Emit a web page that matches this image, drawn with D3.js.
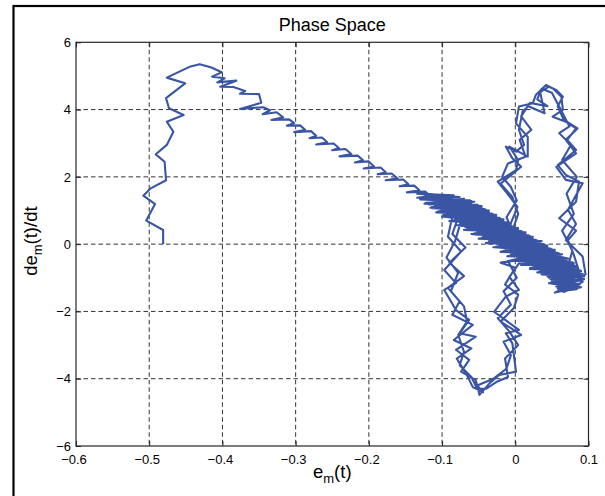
<!DOCTYPE html>
<html><head><meta charset="utf-8">
<script src="https://cdn.jsdelivr.net/npm/d3@7"></script>
<style>
body{margin:0;background:#fff}
svg{display:block}
text{font-family:"Liberation Sans",Arial,Helvetica,sans-serif;fill:#000}
</style>
</head><body>
<svg id="chart" width="605" height="496"></svg>
<script>
// ---------- data ----------
const titleText = "Phase Space";
const xTicks = [-0.6, -0.5, -0.4, -0.3, -0.2, -0.1, 0, 0.1];
const yTicks = [-6, -4, -2, 0, 2, 4, 6];

const climb = [[-0.481,0.00],[-0.481,0.42],[-0.504,0.70],[-0.492,1.19],[-0.508,1.44],[-0.498,1.66],[-0.477,1.90],[-0.479,2.45],[-0.491,2.67],[-0.476,2.95],[-0.467,3.34],[-0.476,3.64],[-0.453,3.84],[-0.473,4.04],[-0.477,4.34],[-0.451,4.78],[-0.476,4.95],[-0.445,5.27],[-0.431,5.35],[-0.415,5.25],[-0.401,5.11]];

const diagonal = [[-0.414,4.98],[-0.397,4.93],[-0.407,4.81],[-0.381,4.86],[-0.403,4.68],[-0.385,4.67],[-0.369,4.55],[-0.376,4.47],[-0.350,4.46],[-0.347,4.20],[-0.376,4.02],[-0.344,4.07],[-0.335,3.98],[-0.345,3.86],[-0.326,3.92],[-0.317,3.77],[-0.333,3.69],[-0.309,3.71],[-0.302,3.60],[-0.312,3.52],[-0.294,3.53],[-0.287,3.40],[-0.302,3.33],[-0.279,3.36],[-0.272,3.22],[-0.281,3.15],[-0.264,3.17],[-0.257,3.03],[-0.272,2.96],[-0.248,2.99],[-0.241,2.86],[-0.250,2.79],[-0.232,2.83],[-0.224,2.68],[-0.240,2.61],[-0.215,2.63],[-0.208,2.49],[-0.219,2.43],[-0.200,2.46],[-0.193,2.31],[-0.207,2.25],[-0.184,2.28],[-0.177,2.14],[-0.188,2.08],[-0.169,2.10],[-0.161,1.96],[-0.177,1.90],[-0.153,1.92],[-0.146,1.78],[-0.158,1.72],[-0.138,1.74],[-0.131,1.60],[-0.148,1.54],[-0.123,1.56],[-0.116,1.43],[-0.134,1.38],[-0.108,1.40],[-0.100,1.28]];

const bandPass1 = [[-0.070,1.35],[-0.118,1.18],[-0.066,1.24],[-0.110,1.08],[-0.058,1.16],[-0.104,0.98],[-0.050,1.06],[-0.098,0.88],[-0.042,0.96],[-0.090,0.79],[-0.036,0.86],[-0.082,0.70],[-0.030,0.76],[-0.075,0.60],[-0.022,0.66],[-0.068,0.51],[-0.016,0.56],[-0.060,0.42],[-0.008,0.46],[-0.052,0.32],[-0.002,0.36],[-0.044,0.22],[0.006,0.26],[-0.036,0.12],[0.014,0.15],[-0.030,0.02],[0.020,0.05],[-0.022,-0.08],[0.026,-0.06],[-0.014,-0.18],[0.034,-0.16],[-0.006,-0.28],[0.040,-0.27],[0.002,-0.38],[0.048,-0.37],[0.010,-0.48],[0.056,-0.47],[0.018,-0.58],[0.064,-0.58],[0.026,-0.68],[0.070,-0.70],[0.034,-0.78]];

const cornerA = [[0.088,-0.82],[0.042,-0.90],[0.094,-0.96],[0.048,-1.04],[0.090,-1.08],[0.052,-1.18],[0.086,-1.22],[0.058,-1.32],[0.080,-1.30],[0.066,-1.42],[0.092,-1.12],[0.084,-0.60]];

const upperLoop1 = [[0.080,-0.32],[0.072,0.12],[0.083,0.40],[0.060,0.77],[0.083,1.26],[0.087,1.86],[0.069,2.06],[0.058,2.35],[0.083,2.80],[0.071,3.10],[0.083,3.44],[0.069,3.64],[0.051,3.79],[0.065,3.99],[0.063,4.38],[0.052,4.62],[0.042,4.73],[0.028,4.43],[0.024,4.19],[0.005,4.09],[0.001,3.59],[0.017,3.19],[0.017,2.60],[-0.008,2.90],[0.004,2.50],[0.001,2.20],[-0.024,1.86],[-0.013,1.56],[0.003,1.11],[-0.008,0.52],[-0.010,0.30]];

const bandPass2 = [[0.012,0.22],[-0.040,0.40],[0.002,0.38],[-0.050,0.55],[-0.010,0.53],[-0.060,0.68],[-0.020,0.70],[-0.072,0.82],[-0.032,0.86],[-0.082,0.96],[-0.046,1.02],[-0.094,1.12],[-0.060,1.20],[-0.088,1.00]];

const lowerLoop1 = [[-0.085,0.92],[-0.092,0.22],[-0.074,-0.22],[-0.097,-0.77],[-0.081,-1.16],[-0.097,-1.36],[-0.081,-1.96],[-0.063,-2.25],[-0.076,-2.65],[-0.054,-2.75],[-0.081,-3.14],[-0.063,-3.44],[-0.074,-3.79],[-0.054,-4.04],[-0.049,-4.48],[-0.035,-4.13],[-0.022,-3.89],[0.001,-3.79],[-0.004,-2.95],[-0.013,-2.65],[0.005,-2.55],[-0.029,-2.01],[-0.013,-1.56],[0.005,-1.36],[-0.008,-0.97],[0.005,-0.57]];

const bandPass3 = [[0.050,-0.62],[0.010,-0.44],[0.044,-0.50],[0.000,-0.30],[0.036,-0.38],[-0.010,-0.18],[0.028,-0.24],[-0.018,-0.04],[0.020,-0.12],[-0.026,0.08],[0.012,0.02],[-0.034,0.20],[0.004,0.14],[-0.044,0.34],[-0.006,0.28],[-0.052,0.46],[-0.014,0.42],[-0.062,0.60],[-0.024,0.56],[-0.070,0.72],[-0.034,0.70],[-0.080,0.86],[-0.042,0.84],[-0.090,1.00],[-0.052,0.98],[-0.098,1.12],[-0.062,1.14],[-0.112,1.28],[-0.074,1.30],[-0.122,1.44],[-0.086,1.42],[-0.130,1.52],[-0.094,1.26]];

const lowerLoop2 = [[-0.078,0.80],[-0.086,0.30],[-0.068,-0.10],[-0.090,-0.55],[-0.070,-0.95],[-0.092,-1.30],[-0.076,-1.70],[-0.086,-2.10],[-0.058,-2.40],[-0.084,-2.85],[-0.060,-3.10],[-0.080,-3.40],[-0.066,-3.90],[-0.058,-4.25],[-0.044,-4.40],[-0.052,-4.20],[-0.030,-4.00],[-0.012,-3.70],[-0.006,-3.30],[-0.016,-2.90],[0.008,-2.70],[-0.020,-2.30],[-0.002,-1.90],[0.004,-1.50],[-0.014,-1.20],[0.000,-0.70]];

const bandPass4 = [[-0.020,-0.55],[0.030,-0.40],[0.008,-0.62],[0.058,-0.50],[0.020,-0.72],[0.066,-0.64],[0.030,-0.84],[0.074,-0.76]];

const cornerB = [[0.044,-0.96],[0.090,-0.90],[0.050,-1.10],[0.094,-1.04],[0.056,-1.26],[0.088,-1.20],[0.062,-1.36],[0.096,-0.90]];

const upperLoop2 = [[0.092,-0.37],[0.069,0.12],[0.083,0.60],[0.072,1.02],[0.092,1.81],[0.069,1.91],[0.056,2.30],[0.083,2.70],[0.069,3.10],[0.085,3.44],[0.066,3.70],[0.058,4.10],[0.065,4.38],[0.056,4.58],[0.046,4.68],[0.034,4.52],[0.040,3.89],[0.018,4.10],[0.010,3.95],[0.005,3.40],[0.012,2.95],[0.001,2.75],[-0.013,2.90],[-0.004,2.55],[0.008,2.30],[-0.020,1.80],[-0.004,1.40],[0.004,0.90],[-0.004,0.40]];

const bandPass5 = [[-0.040,0.46],[0.006,0.30],[-0.030,0.24],[0.016,0.10],[-0.020,0.04],[0.026,-0.10],[-0.010,-0.16],[0.036,-0.30],[0.000,-0.34],[0.046,-0.46],[0.012,-0.52],[0.056,-0.62],[0.024,-0.72],[0.066,-0.76],[0.036,-0.90]];

const cornerC = [[0.086,-0.96],[0.046,-1.16],[0.090,-1.28],[0.054,-1.44],[0.080,-1.14],[0.070,-0.80]];

const upperLoop3 = [[0.078,-0.20],[0.064,0.40],[0.080,0.90],[0.070,1.50],[0.084,2.00],[0.064,2.50],[0.076,2.95],[0.060,3.30],[0.074,3.50],[0.062,4.00],[0.050,4.50],[0.036,4.62],[0.030,4.30],[0.044,4.10],[0.020,4.20],[0.008,3.80],[0.022,3.40],[0.006,3.10],[0.014,2.60],[-0.010,2.40],[-0.018,2.00],[-0.006,1.70],[0.002,1.30],[-0.012,0.80],[0.000,0.20]];

const bandPass6 = [[-0.044,0.56],[-0.006,0.50],[-0.054,0.70],[-0.016,0.66],[-0.066,0.84],[-0.028,0.80],[-0.076,0.98],[-0.040,0.98],[-0.084,1.10]];

const lowerLoop3 = [[-0.074,0.70],[-0.082,0.10],[-0.094,-0.40],[-0.078,-0.85],[-0.088,-1.40],[-0.070,-1.85],[-0.066,-2.30],[-0.078,-2.70],[-0.070,-3.20],[-0.076,-3.60],[-0.060,-3.95],[-0.052,-4.30],[-0.040,-4.30],[-0.026,-4.10],[-0.010,-3.95],[-0.014,-3.40],[0.004,-3.00],[-0.008,-2.60],[-0.024,-2.20],[-0.006,-1.80],[-0.016,-1.40],[0.002,-1.00],[-0.010,-0.50]];

const bandPass7 = [[0.030,-0.30],[-0.004,-0.22],[0.040,-0.40],[0.006,-0.42],[0.048,-0.56],[0.020,-0.60]];

const bandPass8 = [[0.080,-0.56],[0.000,-0.49],[0.072,-0.43],[-0.011,-0.36],[0.064,-0.30],[-0.020,-0.23],[0.054,-0.17],[-0.028,-0.10],[0.044,-0.04],[-0.040,0.03],[0.036,0.09],[-0.050,0.16],[0.024,0.22],[-0.058,0.29],[0.014,0.35],[-0.070,0.42],[0.004,0.48],[-0.078,0.55],[-0.006,0.61],[-0.090,0.68],[-0.016,0.74],[-0.098,0.81],[-0.026,0.87],[-0.108,0.94],[-0.036,1.00],[-0.114,1.07],[-0.046,1.13],[-0.124,1.20],[-0.058,1.26],[-0.130,1.33]];

const bandPass9 = [[-0.062,1.30],[-0.122,1.23],[-0.052,1.17],[-0.114,1.10],[-0.042,1.04],[-0.106,0.97],[-0.032,0.91],[-0.096,0.84],[-0.022,0.78],[-0.086,0.71],[-0.012,0.65],[-0.076,0.58],[-0.002,0.52],[-0.066,0.45],[0.008,0.39],[-0.056,0.32],[0.018,0.26],[-0.046,0.19],[0.028,0.13],[-0.036,0.06],[0.038,0.00],[-0.026,-0.07],[0.048,-0.13],[-0.016,-0.20],[0.058,-0.26],[-0.006,-0.33],[0.066,-0.39],[0.004,-0.46],[0.074,-0.52],[0.014,-0.59],[0.082,-0.65],[0.024,-0.72],[0.088,-0.78],[0.034,-0.85]];

const cornerD = [[0.090,-0.92],[0.046,-1.00],[0.092,-1.06],[0.050,-1.14],[0.088,-1.18],[0.056,-1.26],[0.084,-1.34],[0.060,-1.40],[0.078,-1.24],[0.050,-0.94]];

const bandPass10 = [[0.090,-0.80],[0.020,-0.74],[0.084,-0.67],[0.010,-0.61],[0.078,-0.54],[0.000,-0.48],[0.070,-0.41],[-0.010,-0.35],[0.060,-0.28],[-0.020,-0.22],[0.050,-0.15],[-0.030,-0.09],[0.040,-0.02],[-0.040,0.04],[0.030,0.11],[-0.050,0.17],[0.020,0.24],[-0.060,0.30],[0.010,0.37],[-0.070,0.43],[0.000,0.50],[-0.080,0.56],[-0.010,0.63],[-0.090,0.69],[-0.020,0.76],[-0.100,0.82],[-0.030,0.89],[-0.108,0.95],[-0.040,1.02],[-0.116,1.08],[-0.050,1.15],[-0.124,1.21],[-0.060,1.28],[-0.126,1.36],[-0.084,1.45],[-0.134,1.50]];

const bandPass11 = [[-0.076,1.40],[-0.118,1.32],[-0.056,1.26],[-0.110,1.14],[-0.046,1.09],[-0.102,1.01],[-0.036,0.95],[-0.092,0.88],[-0.026,0.81],[-0.082,0.75],[-0.016,0.68],[-0.072,0.62],[-0.006,0.55],[-0.062,0.49],[0.004,0.42],[-0.052,0.36],[0.014,0.29],[-0.042,0.23],[0.024,0.16],[-0.032,0.10],[0.034,0.03],[-0.022,-0.03],[0.044,-0.10],[-0.012,-0.16],[0.054,-0.23],[-0.002,-0.29],[0.062,-0.36],[0.008,-0.42],[0.070,-0.49],[0.018,-0.55],[0.080,-0.62],[0.028,-0.68],[0.086,-0.75],[0.038,-0.82],[0.092,-0.88],[0.050,-0.98]];

const trajectory = [].concat(climb, diagonal, bandPass1, cornerA, upperLoop1, bandPass2,
  lowerLoop1, bandPass3, lowerLoop2, bandPass4, cornerB, upperLoop2, bandPass5, cornerC,
  upperLoop3, bandPass6, lowerLoop3, bandPass7, bandPass8, bandPass9, cornerD, bandPass10,
  bandPass11);

// ---------- drawing ----------
const svg = d3.select("#chart");
const L = 76, R = 588.5, T = 42.3, B = 446;
const x = d3.scaleLinear().domain([-0.6, 0.1]).range([L, R]);
const y = d3.scaleLinear().domain([-6, 6]).range([B, T]);

// outer figure frame
svg.append("rect").attr("x", 13.5).attr("y", 6).attr("width", 640).attr("height", 540)
  .attr("fill", "none").attr("stroke", "#000").attr("stroke-width", 2.2);

// grid
const grid = svg.append("g").attr("stroke", "#333").attr("stroke-width", 1)
  .attr("stroke-dasharray", "4.5,3").attr("fill", "none");
xTicks.slice(1, -1).forEach(d => {
  grid.append("line").attr("x1", x(d)).attr("x2", x(d)).attr("y1", T).attr("y2", B);
});
yTicks.slice(1, -1).forEach(d => {
  grid.append("line").attr("x1", L).attr("x2", R).attr("y1", y(d)).attr("y2", y(d));
});

// data line
const line = d3.line().x(d => x(d[0])).y(d => y(d[1]));
svg.append("path").datum(trajectory).attr("d", line)
  .attr("fill", "none").attr("stroke", "#3a55a4").attr("stroke-width", 2.1)
  .attr("stroke-linejoin", "round");

// axes (ticks inside)
const fmt = d => (d < 0 ? "\u2212" : "") + String(Math.abs(d));
const axB = svg.append("g").attr("transform", `translate(0,${B})`)
  .call(d3.axisBottom(x).tickValues(xTicks).tickSize(-5).tickPadding(10).tickFormat(fmt));
const axT = svg.append("g").attr("transform", `translate(0,${T})`)
  .call(d3.axisTop(x).tickValues(xTicks).tickSize(-5).tickFormat(""));
const axL = svg.append("g").attr("transform", `translate(${L},0)`)
  .call(d3.axisLeft(y).tickValues(yTicks).tickSize(-5).tickPadding(10).tickFormat(fmt));
const axRt = svg.append("g").attr("transform", `translate(${R},0)`)
  .call(d3.axisRight(y).tickValues(yTicks).tickSize(-5).tickFormat(""));
[axB, axT, axL, axRt].forEach(g => {
  g.select(".domain").remove();
  g.selectAll("line").attr("stroke", "#262626");
  g.selectAll("text").attr("font-size", 13).attr("font-family", "'Liberation Sans',Arial,sans-serif").attr("fill", "#000");
});
axB.selectAll("text").attr("dx", d => d < 0 ? -2.5 : 0).attr("dy", "0.71em").attr("y", 8.5);
axL.selectAll("text").attr("x", -5);

// axes box
svg.append("rect").attr("x", L).attr("y", T).attr("width", R - L).attr("height", B - T)
  .attr("fill", "none").attr("stroke", "#262626").attr("stroke-width", 1.2);

// title
svg.append("text").attr("x", (L + R) / 2).attr("y", 31).attr("text-anchor", "middle")
  .attr("font-size", 18).text(titleText);

// x label e_m(t)
const xl = svg.append("text").attr("x", (L + R) / 2).attr("y", 478).attr("text-anchor", "middle").attr("font-size", 18.5);
xl.append("tspan").text("e");
xl.append("tspan").attr("font-size", 13).attr("dy", 5).text("m");
xl.append("tspan").attr("dy", -5).text("(t)");

// y label de_m(t)/dt
const yl = svg.append("text").attr("transform", `translate(37,${(T + B) / 2 - 3}) rotate(-90)`)
  .attr("text-anchor", "middle").attr("font-size", 18.5);
yl.append("tspan").text("de");
yl.append("tspan").attr("font-size", 13).attr("dy", 5).text("m");
yl.append("tspan").attr("dy", -5).text("(t)/dt");
</script>
</body></html>
